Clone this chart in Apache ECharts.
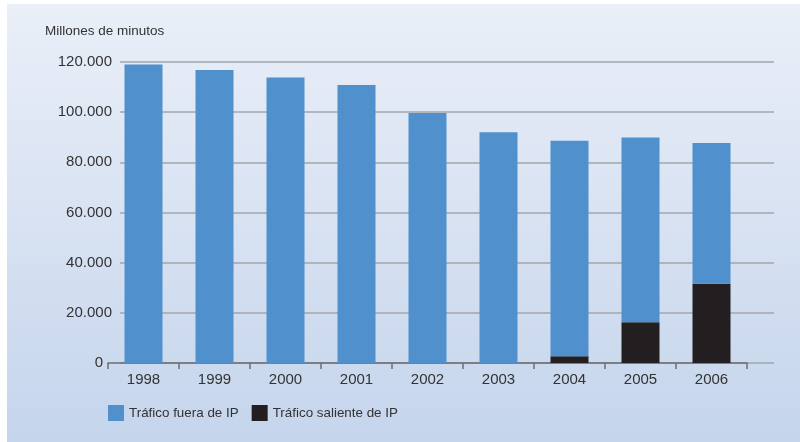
<!DOCTYPE html>
<html>
<head>
<meta charset="utf-8">
<script src="https://cdn.jsdelivr.net/npm/echarts@6/dist/echarts.min.js"></script>
<style>
  html, body { margin: 0; padding: 0; background: #fff; }
  #main { width: 800px; height: 442px; }
</style>
</head>
<body>
<div id="main"></div>
<script>
// datos (millones de minutos)
var years = ['1998', '1999', '2000', '2001', '2002', '2003', '2004', '2005', '2006'];
var fueraIP = [119000, 116800, 113800, 110800, 99700, 92000, 85900, 73700, 56100];
var salienteIP = [0, 0, 0, 0, 0, 0, 2700, 16200, 31600];
var yTicks = [0, 20000, 40000, 60000, 80000, 100000, 120000];

var myChart = echarts.init(document.getElementById('main'));

function fmt(v) {
    return String(v).replace(/\B(?=(\d{3})+(?!\d))/g, '.');
}

var font = 'Liberation Sans';

var option = {
    animation: false,
    backgroundColor: '#ffffff',
    graphic: [{
        type: 'rect',
        z: -10,
        shape: { x: 7, y: 4, width: 793, height: 438 },
        style: {
            fill: new echarts.graphic.LinearGradient(0, 0, 0, 1, [
                { offset: 0, color: '#eaeff8' },
                { offset: 1, color: '#c5d5ec' }
            ])
        }
    }],
    title: {
        text: 'Millones de minutos',
        left: 40,
        top: 19,
        textStyle: { fontFamily: font, fontSize: 13.5, fontWeight: 'normal', color: '#333' }
    },
    legend: {
        left: 103,
        top: 400,
        itemWidth: 16,
        itemHeight: 16,
        itemGap: 13,
        icon: 'rect',
        data: ['Tráfico fuera de IP', 'Tráfico saliente de IP'],
        textStyle: { fontFamily: font, fontSize: 13.4, color: '#333' }
    },
    grid: [
        // rejilla para lineas horizontales y etiquetas
        { left: 120, right: 26, top: 62, bottom: 79 },
        // rejilla de las barras
        { left: 108, right: 53, top: 62, bottom: 79 }
    ],
    xAxis: [
        { type: 'value', gridIndex: 0, show: false, min: 0, max: 1 },
        {
            type: 'category',
            gridIndex: 1,
            data: years,
            axisLine: { lineStyle: { color: '#6d6e71', width: 1.5 } },
            axisTick: { show: true, inside: false, length: 6, lineStyle: { color: '#6d6e71', width: 1.5 } },
            axisLabel: { fontFamily: font, fontSize: 15, color: '#333', margin: 9 }
        }
    ],
    yAxis: [
        {
            type: 'value',
            gridIndex: 0,
            min: yTicks[0],
            max: yTicks[yTicks.length - 1],
            interval: 20000,
            axisLine: { show: false },
            axisTick: { show: false },
            splitLine: { lineStyle: { color: '#a3a6ab', width: 1.5 } },
            axisLabel: {
                margin: 8,
                fontFamily: font,
                fontSize: 15,
                color: '#333',
                formatter: function (v) {
                    return v === 0 ? '{z|0}' : fmt(v);
                },
                rich: { z: { fontFamily: font, fontSize: 15, color: '#333', padding: [0, 9, 0, 0] } }
            }
        },
        {
            type: 'value',
            gridIndex: 1,
            min: yTicks[0],
            max: yTicks[yTicks.length - 1],
            interval: 20000,
            show: false,
            splitLine: { show: false }
        }
    ],
    series: [
        {
            name: 'Tráfico saliente de IP',
            type: 'bar',
            stack: 'total',
            xAxisIndex: 1,
            yAxisIndex: 1,
            barWidth: 38,
            itemStyle: { color: '#231f20' },
            data: salienteIP
        },
        {
            name: 'Tráfico fuera de IP',
            type: 'bar',
            stack: 'total',
            xAxisIndex: 1,
            yAxisIndex: 1,
            barWidth: 38,
            itemStyle: { color: '#4f90cd' },
            data: fueraIP
        }
    ]
};

myChart.setOption(option);
</script>
</body>
</html>
